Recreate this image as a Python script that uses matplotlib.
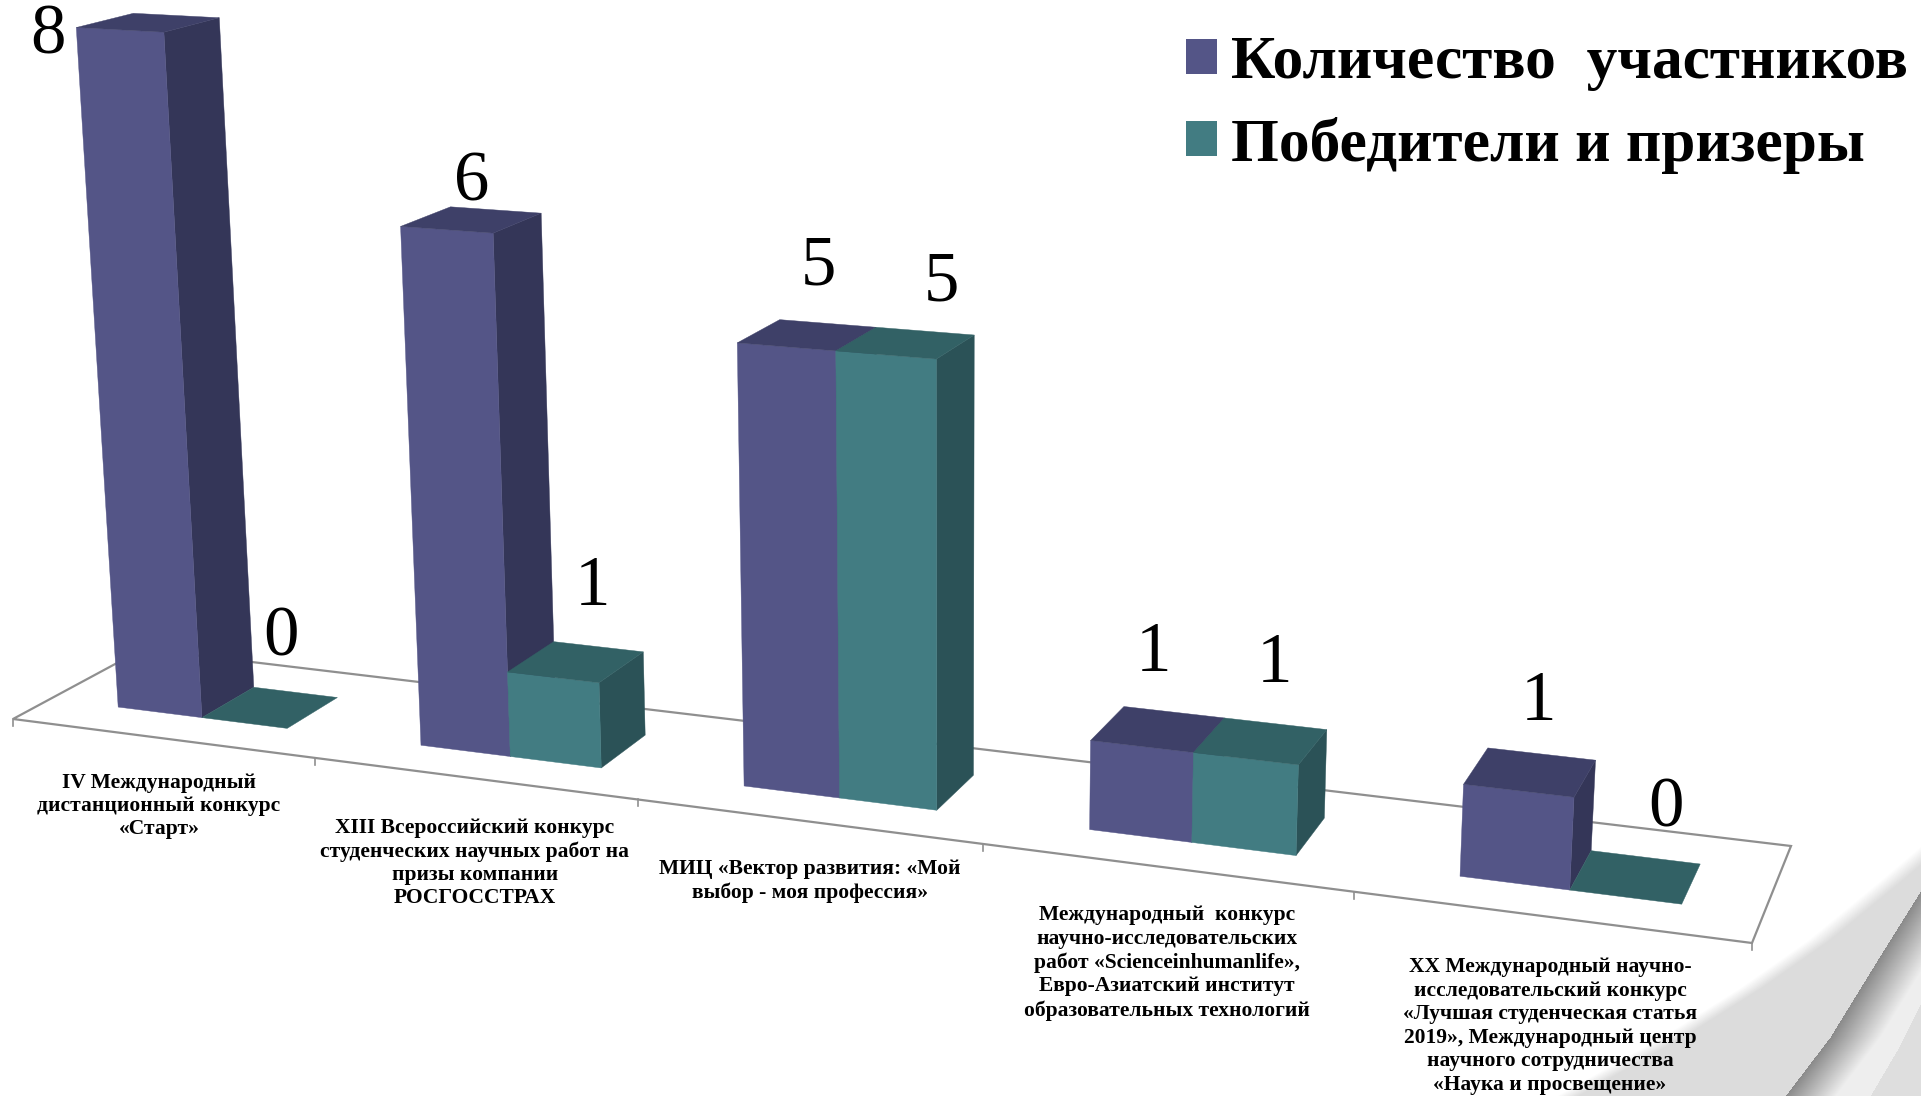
import matplotlib
matplotlib.use('Agg')
import matplotlib.pyplot as plt
import numpy as np
from matplotlib.patches import Patch, Polygon

# data
categories = [
    'IV Международный\nдистанционный конкурс\n«Старт»',
    'XIII Всероссийский конкурс\nстуденческих научных работ на\nпризы компании\nРОСГОССТРАХ',
    'МИЦ «Вектор развития: «Мой\nвыбор - моя профессия»',
    'Международный  конкурс\nнаучно-исследовательских\nработ «Scienceinhumanlife»,\nЕвро-Азиатский институт\nобразовательных технологий',
    'XX Международный научно-\nисследовательский конкурс\n«Лучшая студенческая статья\n2019», Международный центр\nнаучного сотрудничества\n«Наука и просвещение»',
]
participants = [8, 6, 5, 1, 1]
winners = [0, 1, 5, 1, 0]
series_names = ['Количество  участников', 'Победители и призеры']

# colours: front, side, top
PURPLE = ('#545587', '#343658', '#3e4068')
TEAL = ('#427c82', '#2b5257', '#326165')
FLOOR_LINE = '#8f8f8f'

# manual layout of the text
cat_label_pos = [(159, 806), (475, 863), (810, 881), (1167, 963), (1550, 1026)]
purple_offsets = [(-100, 13), (0, -37), (11, -68), (-5, -76), (8, -70)]
teal_offsets = [(11, -69), (17, -74), (36, -60), (14, -76), (30, -68)]

# floor corners on screen: front left, front right, back left, back right
SRC = [(0, 0), (5, 0), (0, 1), (5, 1)]
DST = [(13, 719), (1752, 943), (143, 649), (1791, 846)]
# vertical vanishing point, far under the picture
VERT = np.array([950.0, 14200.0, 1.0])
UNIT_PX = 85.3


def floor_matrix():
    A = []
    b = []
    for (u, d), (x, y) in zip(SRC, DST):
        A.append([u, d, 1, 0, 0, 0, -u * x, -d * x])
        A.append([0, 0, 0, u, d, 1, -u * y, -d * y])
        b += [x, y]
    h = np.linalg.solve(np.array(A, float), np.array(b, float))
    return np.append(h, 1).reshape(3, 3)


H = floor_matrix()
K = -UNIT_PX / (VERT[1] - 800) * (H @ [2.5, 0.5, 1])[2]


def project(u, d, z=0.0):
    p = H @ [u, d, 1] + z * K * VERT
    return p[0] / p[2], p[1] / p[2]


# slide background in the lower right corner
def background():
    yy, xx = np.mgrid[0:1096, 0:1921]
    edge1 = np.interp(yy, [845, 880, 940, 987, 1033, 1096], [1921, 1880, 1807, 1740, 1667, 1555])
    t = np.clip((xx - edge1) / 22, 0, 1) * (yy > 820)
    img = 1 - t * 0.137
    edge2 = np.interp(yy, [890, 967, 1037, 1096], [1921, 1873, 1830, 1785])
    t = np.clip((xx - edge2) / 50, 0, 1)
    img = np.where((xx > edge2) & (yy > 880), 0.54 + t * 0.39, img)
    edge3 = np.interp(yy, [1003, 1050, 1096], [1921, 1897, 1870])
    img = np.where((xx > edge3) & (yy > 1000), 0.87, img)
    return img


fig = plt.figure(figsize=(19.21, 10.96), dpi=100)
ax = fig.add_axes([0, 0, 1, 1])
ax.imshow(background(), cmap='gray', vmin=0, vmax=1, extent=(0, 1921, 1096, 0), aspect='auto', zorder=0)
ax.set_xlim(0, 1921)
ax.set_ylim(1096, 0)
ax.axis('off')

# floor
corners = [project(0, 0), project(5, 0), project(5, 1), project(0, 1)]
ax.add_patch(Polygon(corners, closed=True, fc='white', ec=FLOOR_LINE, lw=1.6, zorder=1))
for i in range(6):
    x, y = project(i, 0)
    ax.plot([x, x], [y, y + 7], color=FLOOR_LINE, lw=1.2, zorder=1)

D0, D1 = 0.28, 0.70
GAP = 0.231
BAR_W = 0.283


def draw_bar(u0, u1, z, cols, zorder):
    if z > 0:
        ax.add_patch(Polygon([project(u1, D0), project(u1, D1), project(u1, D1, z), project(u1, D0, z)],
                             fc=cols[1], ec=cols[1], lw=0.3, zorder=zorder))
        ax.add_patch(Polygon([project(u0, D0), project(u1, D0), project(u1, D0, z), project(u0, D0, z)],
                             fc=cols[0], ec=cols[0], lw=0.3, zorder=zorder))
    ax.add_patch(Polygon([project(u0, D0, z), project(u1, D0, z), project(u1, D1, z), project(u0, D1, z)],
                         fc=cols[2], ec=cols[2], lw=0.3, zorder=zorder))


for i in range(len(categories)):
    left = i + GAP
    draw_bar(left, left + BAR_W, participants[i], PURPLE, 2 + i)
    draw_bar(left + BAR_W, left + 2 * BAR_W, winners[i], TEAL, 2.5 + i)

    cx, cy = project(left + BAR_W / 2, (D0 + D1) / 2, participants[i])
    ax.text(cx + purple_offsets[i][0], cy + purple_offsets[i][1], str(participants[i]), ha='center', va='center',
            family='Liberation Serif', fontsize=51, color='black', zorder=20)
    cx, cy = project(left + 1.5 * BAR_W, (D0 + D1) / 2, winners[i])
    ax.text(cx + teal_offsets[i][0], cy + teal_offsets[i][1], str(winners[i]), ha='center', va='center',
            family='Liberation Serif', fontsize=51, color='black', zorder=20)

    ax.text(cat_label_pos[i][0], cat_label_pos[i][1], categories[i], ha='center', va='center', multialignment='center',
            family='Liberation Serif', weight='bold', fontsize=15.5, linespacing=1.23, color='black', zorder=20)

handles = [Patch(fc=PURPLE[0], ec='none'), Patch(fc=TEAL[0], ec='none')]
ax.legend(handles, series_names, loc='upper left', bbox_to_anchor=(1186 / 1921, 1 - 35 / 1096), frameon=False,
          prop={'family': 'Liberation Serif', 'weight': 'bold', 'size': 44.2},
          handlelength=0.5, handleheight=0.5, handletextpad=0.23, labelspacing=0.42, borderpad=0, borderaxespad=0)

fig.savefig('out.png', dpi=100)
